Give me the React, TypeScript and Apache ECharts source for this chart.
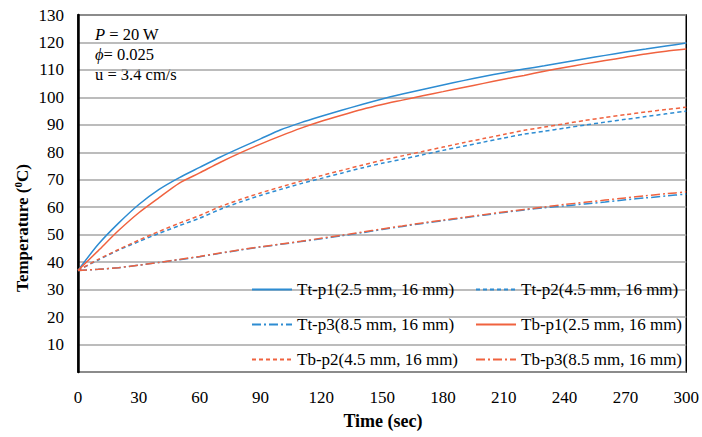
import React, { useEffect, useRef } from "react";
import * as echarts from "echarts";

const times = [0, 10, 20, 30, 40, 50, 60, 70, 80, 90, 100, 110, 120, 130, 140, 150, 160, 170, 180, 190, 200, 210, 220, 230, 240, 250, 260, 270, 280, 290, 300];

const ttP1 = [37, 46.5, 54.2, 61, 66.5, 70.8, 74.5, 78.2, 81.6, 84.9, 88.2, 90.8, 93.1, 95.3, 97.4, 99.4, 101.2, 102.9, 104.5, 106.1, 107.6, 109, 110.3, 111.5, 112.8, 114.1, 115.3, 116.5, 117.6, 118.7, 119.8];
const ttP2 = [37, 40.8, 44.4, 47.5, 50.5, 53.3, 56, 59.2, 61.9, 64.3, 66.5, 68.6, 70.5, 72.4, 74.3, 76, 77.5, 79.1, 80.7, 82.2, 83.7, 85.2, 86.6, 87.7, 88.8, 89.9, 91, 92, 93, 94, 95];
const ttP3 = [37, 37.4, 38, 38.9, 39.9, 40.9, 42, 43.2, 44.4, 45.5, 46.5, 47.5, 48.5, 49.6, 50.7, 51.9, 53, 54.1, 55.1, 56.1, 57.1, 58.1, 59, 59.8, 60.5, 61.2, 61.9, 62.7, 63.4, 64.1, 64.8];
const tbP1 = [37, 44.2, 51.5, 58, 63.5, 68.8, 72.5, 76.3, 79.8, 83, 86, 88.8, 91.3, 93.5, 95.6, 97.4, 99, 100.6, 102.1, 103.6, 105.1, 106.6, 108, 109.5, 110.9, 112.2, 113.4, 114.6, 115.8, 116.8, 117.6];
const tbP2 = [37, 41, 44.6, 48, 51.2, 54.2, 57, 60.2, 62.8, 65.2, 67.4, 69.5, 71.5, 73.4, 75.3, 77.1, 78.7, 80.3, 81.9, 83.5, 85, 86.5, 88, 89.2, 90.4, 91.6, 92.7, 93.7, 94.7, 95.6, 96.4];
const tbP3 = [37, 37.4, 38, 38.9, 39.9, 41, 42.1, 43.3, 44.5, 45.6, 46.6, 47.6, 48.7, 49.8, 50.9, 52.1, 53.2, 54.3, 55.3, 56.3, 57.3, 58.3, 59.2, 60.1, 61, 61.8, 62.6, 63.4, 64.2, 64.9, 65.6];

const seriesNames = [
  "Tt-p1(2.5 mm, 16 mm)",
  "Tt-p2(4.5 mm, 16 mm)",
  "Tt-p3(8.5 mm, 16 mm)",
  "Tb-p1(2.5 mm, 16 mm)",
  "Tb-p2(4.5 mm, 16 mm)",
  "Tb-p3(8.5 mm, 16 mm)",
];
const seriesValues = [ttP1, ttP2, ttP3, tbP1, tbP2, tbP3];

const xTicks = [0, 30, 60, 90, 120, 150, 180, 210, 240, 270, 300];
const yTicks = [0, 10, 20, 30, 40, 50, 60, 70, 80, 90, 100, 110, 120, 130];

const annotations = ["{i|P} = 20 W", "{i|ϕ}= 0.025", "u = 3.4 cm/s"];

const BLUE = "#2d8cd2";
const RED = "#f0623f";
const FONT = "Liberation Serif";

export default function App() {
  const ref = useRef<HTMLDivElement>(null);

  useEffect(() => {
    if (!ref.current) return;
    const chart = echarts.init(ref.current, undefined, { renderer: "svg" });

    const colors = [BLUE, BLUE, BLUE, RED, RED, RED];
    const dashes: any[] = ["solid", [4, 3], [9, 3, 2, 3], "solid", [4, 3], [9, 3, 2, 3]];

    const series = seriesNames.map((name, i) => ({
      name,
      type: "line",
      data: times.map((t, j) => [t, seriesValues[i][j]]),
      symbol: "none",
      showSymbol: false,
      smooth: 0.25,
      color: colors[i],
      lineStyle: { color: colors[i], width: 1.5, type: dashes[i] },
    }));

    const legendBase = {
      orient: "vertical",
      top: 276,
      itemWidth: 40,
      itemHeight: 14,
      itemGap: 18,
      itemStyle: { opacity: 0 },
      textStyle: { fontFamily: FONT, fontSize: 17, color: "#000" },
    };

    chart.setOption({
      animation: false,
      backgroundColor: "#fff",
      textStyle: { fontFamily: FONT },
      grid: {
        left: 78,
        right: 15,
        top: 15,
        bottom: 65,
        show: true,
        borderColor: "#000",
        borderWidth: 1.5,
        containLabel: false,
      },
      legend: [
        { ...legendBase, left: 246, data: [seriesNames[0], seriesNames[2], seriesNames[4]] },
        { ...legendBase, left: 470, data: [seriesNames[1], seriesNames[3], seriesNames[5]] },
      ],
      xAxis: {
        type: "value",
        min: xTicks[0],
        max: xTicks[xTicks.length - 1],
        interval: 30,
        axisLine: { show: false },
        axisTick: { show: false },
        splitLine: { show: false },
        axisLabel: { fontFamily: FONT, fontSize: 17, color: "#000", margin: 17 },
      },
      yAxis: {
        type: "value",
        min: yTicks[0],
        max: yTicks[yTicks.length - 1],
        interval: 10,
        axisLine: { show: true, lineStyle: { color: "#000", width: 2.5 } },
        axisTick: { show: false },
        splitLine: { show: true, lineStyle: { color: "#a6a6a6", width: 1.5 } },
        axisLabel: {
          fontFamily: FONT,
          fontSize: 17,
          color: "#000",
          margin: 14,
          formatter: (v: number) => (v === 0 ? "" : String(v)),
        },
      },
      graphic: [
        ...annotations.map((txt, i) => ({
          type: "text",
          left: 95,
          top: 26 + i * 20,
          style: {
            text: txt,
            fontFamily: FONT,
            fontSize: 16.5,
            fill: "#000",
            rich: { i: { fontStyle: "italic", fontFamily: FONT, fontSize: 16.5, fill: "#000" } },
          },
        })),
        {
          type: "text",
          x: 383,
          y: 421,
          style: {
            text: "Time (sec)",
            fontFamily: FONT,
            fontSize: 18,
            fontWeight: "bold",
            fill: "#000",
            textAlign: "center",
            textVerticalAlign: "middle",
          },
        },
        {
          type: "text",
          x: 22,
          y: 228,
          rotation: Math.PI / 2,
          style: {
            text: "{a|Temperature (}{s|0}{a|C)}",
            fill: "#000",
            textAlign: "center",
            textVerticalAlign: "middle",
            rich: {
              a: { fontFamily: FONT, fontSize: 17, fontWeight: "bold", fill: "#000", lineHeight: 20 },
              s: { fontFamily: FONT, fontSize: 11, fontWeight: "bold", fill: "#000", verticalAlign: "top", lineHeight: 20, padding: [0, 0, 8, 0] },
            },
          },
        },
      ],
      series,
    });

    return () => chart.dispose();
  }, []);

  return <div ref={ref} style={{ width: 702, height: 437, position: "absolute", left: 0, top: 0 }} />;
}
